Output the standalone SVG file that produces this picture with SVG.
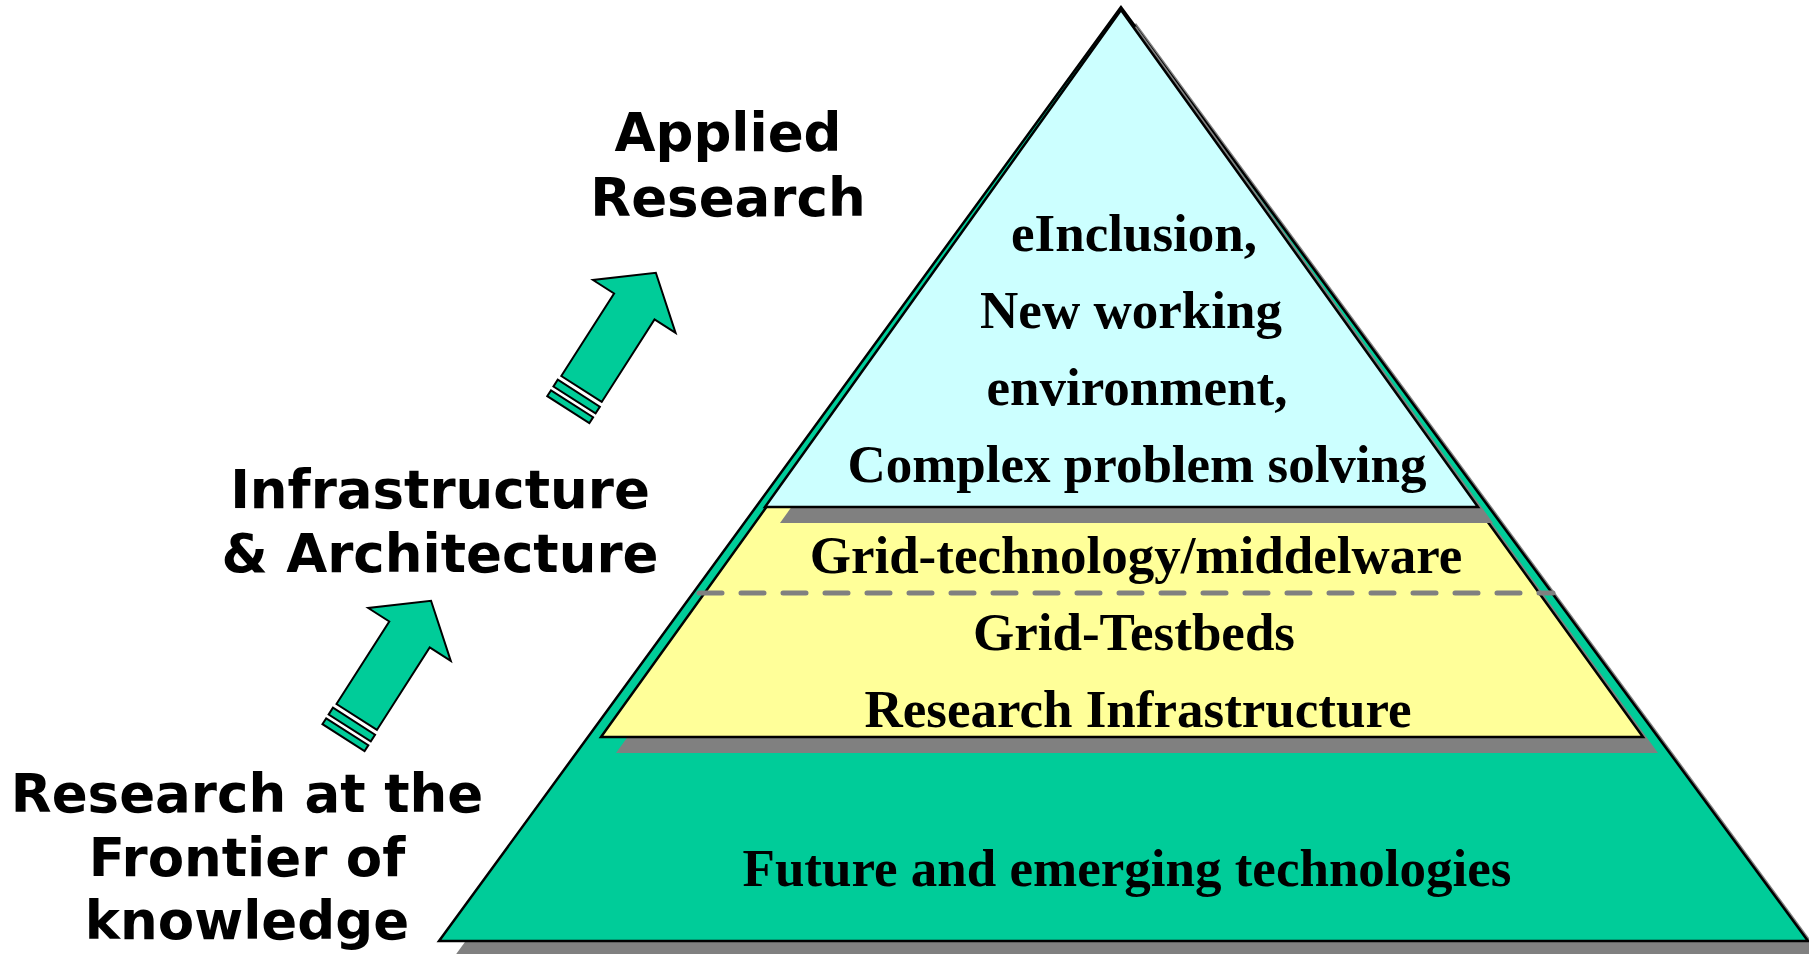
<svg xmlns="http://www.w3.org/2000/svg" width="1809" height="954" viewBox="0 0 1809 954">
  <style>
    .lbl { font-family: "DejaVu Sans", Verdana, sans-serif; font-weight: bold; font-size: 53px; fill: #000; text-anchor: middle; }
    .pt { font-family: "Liberation Serif", "Times New Roman", serif; font-weight: bold; font-size: 53px; fill: #000; text-anchor: middle; }
    .shadow { fill: #808080; }
    .edge { stroke: #000; stroke-width: 2.5; stroke-linejoin: miter; }
    .arrow { fill: #00CC99; stroke: #000; stroke-width: 2; stroke-linejoin: miter; }
  </style>
  <defs>
    <g id="arrowShape">
      <polygon class="arrow" points="0,-24 98,-24 98,-49 138,0 98,49 98,24 0,24"/>
      <polygon class="arrow" points="-13,-25 -5,-25 -5,25 -13,25"/>
      <polygon class="arrow" points="-24.5,-25 -17.5,-25 -17.5,25 -24.5,25"/>
    </g>
  </defs>
  <rect width="1809" height="954" fill="#fff"/>

  <g id="pyramid-base">
    <polygon class="shadow" points="1136,23 454,957 1823,957"/>
    <polygon fill="#00CC99" class="edge" points="1121,7 439,941 1808,941"/>
  </g>
  <g id="layer-middle">
    <polygon class="shadow" points="1136,30 616,753 1658,753"/>
    <polygon fill="#FFFF99" class="edge" points="1121,14 601,737 1643,737"/>
  </g>
  <g id="layer-top">
    <polygon class="shadow" points="1136,26 780,523 1493,523"/>
    <polygon fill="#CCFFFF" class="edge" points="1121,10 765,507 1478,507"/>
  </g>
  <g id="connectors">
    <line x1="699" y1="593" x2="1553" y2="593" stroke="#808080" stroke-width="5" stroke-linecap="round" stroke-dasharray="23 19"/>
  </g>

  <g id="top-text">
    <text class="pt" x="1134" y="251">eInclusion,</text>
    <text class="pt" x="1131" y="328">New working</text>
    <text class="pt" x="1137" y="405">environment,</text>
    <text class="pt" x="1137" y="482">Complex problem solving</text>
  </g>
  <g id="middle-text">
    <text class="pt" x="1136" y="573">Grid-technology/middelware</text>
    <text class="pt" x="1134" y="650">Grid-Testbeds</text>
    <text class="pt" x="1138" y="727">Research Infrastructure</text>
  </g>
  <g id="base-text">
    <text class="pt" x="1127" y="886">Future and emerging technologies</text>
  </g>

  <g id="label-applied">
    <text class="lbl" x="728" y="151">Applied</text>
    <text class="lbl" x="728" y="216">Research</text>
  </g>
  <g id="label-infra">
    <text class="lbl" x="440" y="508">Infrastructure</text>
    <text class="lbl" x="440" y="572">&amp; Architecture</text>
  </g>
  <g id="label-frontier">
    <text class="lbl" x="247" y="812">Research at the</text>
    <text class="lbl" x="247" y="876">Frontier of</text>
    <text class="lbl" x="247" y="939">knowledge</text>
  </g>

  <g id="arrow-upper">
    <use href="#arrowShape" transform="translate(581.5,389) rotate(-57.4)"/>
  </g>
  <g id="arrow-lower">
    <use href="#arrowShape" transform="translate(356.7,717) rotate(-57.4)"/>
  </g>
</svg>
